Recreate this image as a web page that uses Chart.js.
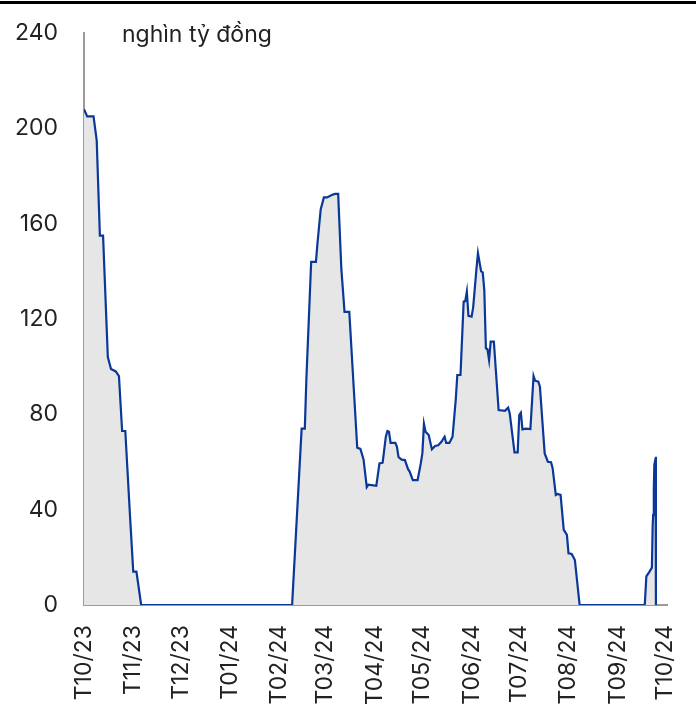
<!DOCTYPE html>
<html>
<head>
<meta charset="utf-8">
<script src="https://cdn.jsdelivr.net/npm/chart.js@4/dist/chart.umd.min.js"></script>
<style>
  html, body { margin: 0; padding: 0; background: #fff; }
  #wrap { width: 696px; height: 704px; position: relative; }
  #topline { position: absolute; left: 0; top: 1px; width: 696px; height: 3px; background: #000; }
  canvas { position: absolute; left: 0; top: 0; }
</style>
</head>
<body>
<div id="wrap">
  <canvas id="chart" width="696" height="704"></canvas>
  <div id="topline"></div>
</div>
<script>
// ngay tinh tu 01/10/2023
var days = [0, 2, 6, 8, 10, 12, 15, 17, 20, 22, 24, 26, 29, 31, 33, 36,
    131, 137, 139, 140, 143, 146, 147, 149, 151, 153, 156, 158, 160, 162, 164, 167,
    172, 174, 176, 178, 179, 181, 184, 186, 188, 190, 191, 192, 193, 196, 197, 198,
    200, 202, 204, 205, 207, 210, 212, 213, 214, 215, 217, 219, 221, 223, 225, 227,
    228, 230, 232, 234, 235, 237, 239, 240, 241, 242, 244, 245, 247, 248, 250, 251,
    252, 253, 254, 255, 256, 258, 261, 265, 267, 268, 270, 271, 273, 274, 275, 276,
    278, 281, 283, 284, 286, 287, 290, 292, 294, 295, 297, 298, 300, 302, 304, 305,
    307, 309, 312, 353, 354, 356, 357.5, 358, 358.3, 358.7, 359, 359.8, 360, 360.05];
var values = [208, 205, 205, 195, 155, 155, 104, 99, 98, 96, 73, 73, 37, 14, 14, 0,
    0, 74, 74, 95, 144, 144, 152, 166, 171, 171, 172, 172.5, 172.5, 141, 123, 123,
    66, 65.5, 61, 49.5, 50.5, 50.3, 50, 59.4, 59.7, 70.6, 73, 72.7, 68, 68, 66.4, 62,
    61, 60.8, 57, 56, 52.4, 52.4, 59.4, 63.6, 76, 72.7, 71.3, 65.3, 66.7, 67, 68.5, 70.6,
    68, 68, 70.6, 86, 96.5, 96.5, 127.3, 127.5, 131.5, 121.3, 121, 125, 140.6, 147.6, 140, 139.6,
    132, 107.7, 107.3, 102.8, 110.5, 110.5, 81.8, 81.5, 82.8, 80.4, 69.5, 64, 64, 79.7, 80.7, 73.7,
    74, 73.8, 96.1, 94.1, 93.7, 91.6, 63.6, 60.1, 59.9, 57.4, 46.2, 46.6, 46.2, 31.5, 29.4, 21.7,
    21.4, 18.9, 0, 0, 12, 14, 15.7, 33.6, 37.8, 48.3, 58.7, 61.5, 62.2, 0];
var monthLabels = ['T10/23', 'T11/23', 'T12/23', 'T01/24', 'T02/24', 'T03/24', 'T04/24',
    'T05/24', 'T06/24', 'T07/24', 'T08/24', 'T09/24', 'T10/24'];
var yTicks = [0, 40, 80, 120, 160, 200, 240];
var unitText = 'nghìn tỷ đồng';

var monthStarts = monthLabels.map(function(l, i) {
    return (Date.UTC(2023, 9 + i, 1) - Date.UTC(2023, 9, 1)) / 86400000;
});

var points = days.map(function(d, i) {
    return {x: d, y: values[i]};
});

var font = {family: 'Inter', size: 23};
var textColor = '#222';

var unitLabel = {
    id: 'unitLabel',
    afterDraw: function(chart) {
        var ctx = chart.ctx;
        ctx.save();
        ctx.font = '23px Inter';
        ctx.fillStyle = textColor;
        ctx.textBaseline = 'middle';
        ctx.fillText(unitText, chart.chartArea.left + 38, chart.scales.y.getPixelForValue(240) + 2);
        ctx.restore();
    }
};

new Chart(document.getElementById('chart'), {
    type: 'line',
    data: {
        datasets: [{
            data: points,
            borderColor: '#0a3898',
            borderWidth: 2.2,
            backgroundColor: '#e6e6e6',
            fill: 'origin',
            pointRadius: 0,
            tension: 0
        }]
    },
    options: {
        responsive: false,
        animation: false,
        layout: {padding: {top: 33, right: 29, left: 0, bottom: 0}},
        plugins: {legend: {display: false}, tooltip: {enabled: false}},
        scales: {
            x: {
                type: 'linear',
                min: 0,
                max: 367,
                grid: {display: false},
                border: {display: true, color: '#9a9a9a', width: 2},
                afterBuildTicks: function(scale) {
                    scale.ticks = monthStarts.map(function(v) { return {value: v}; });
                },
                afterFit: function(scale) {
                    scale.height = 99;
                    scale.paddingLeft = 0;
                    scale.paddingRight = 0;
                },
                ticks: {
                    autoSkip: false,
                    minRotation: 90,
                    maxRotation: 90,
                    padding: 12,
                    color: textColor,
                    font: font,
                    callback: function(v, i) { return monthLabels[i]; }
                }
            },
            y: {
                min: 0,
                max: 240,
                grid: {display: false},
                border: {display: true, color: '#9a9a9a', width: 2},
                afterBuildTicks: function(scale) {
                    scale.ticks = yTicks.map(function(v) { return {value: v}; });
                },
                afterFit: function(scale) {
                    scale.width = 84;
                    scale.paddingTop = 0;
                    scale.paddingBottom = 0;
                },
                ticks: {
                    padding: 18,
                    color: textColor,
                    font: font
                }
            }
        }
    },
    plugins: [unitLabel]
});
</script>
</body>
</html>
